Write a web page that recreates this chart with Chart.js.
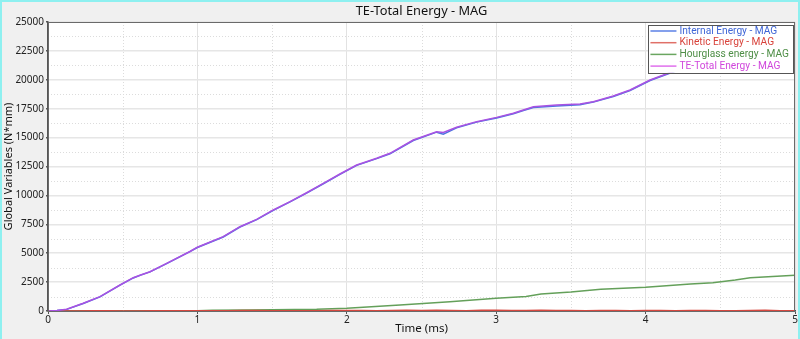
<!DOCTYPE html>
<html><head><meta charset="utf-8">
<script src="https://cdn.jsdelivr.net/npm/chart.js@4/dist/chart.umd.min.js"></script>
<style>html,body{margin:0;padding:0;background:#f0f0f0;overflow:hidden}canvas{display:block}</style>
</head><body>
<canvas id="c" width="800" height="339"></canvas>
<script>
// ---- texts ----
const chartTitle = 'TE-Total Energy - MAG';
const xAxisTitle = 'Time (ms)';
const yAxisTitle = 'Global Variables (N*mm)';
const seriesNames = ['Internal Energy - MAG', 'Kinetic Energy - MAG', 'Hourglass energy - MAG', 'TE-Total Energy - MAG'];

// ---- axis ranges / ticks ----
const xTickValues = [0, 1, 2, 3, 4, 5];
const yTickValues = [0, 2500, 5000, 7500, 10000, 12500, 15000, 17500, 20000, 22500, 25000];

// ---- TE-Total energy (ms, N*mm) ----
const teTime   = [0, 0.06, 0.125, 0.236, 0.348, 0.482, 0.571, 0.62, 0.683, 0.794, 0.95, 1.0, 1.173, 1.285, 1.397, 1.508, 1.62, 1.731, 1.843, 1.954, 2.066, 2.111, 2.2, 2.289, 2.445, 2.601, 2.646, 2.735, 2.869, 3.003, 3.115, 3.182, 3.249, 3.405, 3.561, 3.65, 3.784, 3.896, 4.03, 4.152, 4.4, 4.7, 5.0];
const teValues = [0, 40, 147, 666, 1240, 2250, 2880, 3120, 3400, 4125, 5150, 5520, 6430, 7290, 7930, 8740, 9460, 10230, 11040, 11850, 12630, 12830, 13210, 13640, 14790, 15510, 15450, 15890, 16380, 16750, 17100, 17390, 17670, 17820, 17900, 18110, 18600, 19120, 19980, 20560, 21700, 22700, 23300];

// ---- Internal energy ----
const ieTime   = [0, 0.06, 0.125, 0.236, 0.348, 0.482, 0.571, 0.62, 0.683, 0.794, 0.95, 1.0, 1.173, 1.285, 1.397, 1.508, 1.62, 1.731, 1.843, 1.954, 2.066, 2.111, 2.2, 2.289, 2.445, 2.601, 2.646, 2.735, 2.869, 3.003, 3.115, 3.182, 3.249, 3.405, 3.561, 3.65, 3.784, 3.896, 4.03, 4.152, 4.4, 4.7, 5.0];
const ieValues = [0, 35, 140, 655, 1225, 2235, 2860, 3100, 3385, 4105, 5130, 5495, 6400, 7265, 7900, 8710, 9435, 10200, 11010, 11820, 12600, 12790, 13180, 13600, 14750, 15470, 15300, 15840, 16340, 16700, 17060, 17340, 17600, 17730, 17850, 18070, 18560, 19080, 19940, 20520, 21660, 22660, 23260];

// ---- Kinetic energy ----
const keTime   = [0, 0.1, 0.2, 0.3, 0.4, 0.5, 0.6, 0.7, 0.8, 0.9, 1.0, 1.1, 1.2, 1.3, 1.4, 1.5, 1.6, 1.7, 1.8, 1.9, 2.0, 2.1, 2.2, 2.3, 2.4, 2.5, 2.6, 2.7, 2.8, 2.9, 3.0, 3.1, 3.2, 3.3, 3.4, 3.5, 3.6, 3.7, 3.8, 3.9, 4.0, 4.1, 4.2, 4.3, 4.4, 4.5, 4.6, 4.7, 4.8, 4.9, 5.0];
const keValues = [0, 5, 10, 15, 12, 10, 8, 15, 20, 18, 25, 30, 20, 35, 40, 30, 25, 20, 30, 35, 45, 40, 30, 50, 60, 40, 70, 45, 30, 55, 60, 50, 45, 70, 40, 35, 30, 50, 40, 30, 35, 45, 30, 50, 40, 30, 25, 35, 55, 30, 20];

// ---- Hourglass energy ----
const hgTime   = [0, 0.6, 1.0, 1.1, 1.352, 1.798, 2.0, 2.356, 2.69, 3.0, 3.2, 3.3, 3.5, 3.7, 4.0, 4.3, 4.45, 4.6, 4.7, 5.0];
const hgValues = [0, 5, 30, 60, 86, 147, 233, 520, 805, 1095, 1260, 1480, 1640, 1875, 2050, 2335, 2450, 2680, 2880, 3085];

function pts(t, v) { return t.map((x, i) => ({ x: x, y: v[i] })); }

const FONT = '"Noto Sans", "Open Sans", sans-serif';
const LEGEND_FONT = 'Roboto, "Noto Sans", sans-serif';

const decor = {
  id: 'decor',
  beforeDraw(chart) {
    const { ctx, chartArea: a, width, height } = chart;
    ctx.save();
    ctx.fillStyle = '#f0f0f0';
    ctx.fillRect(0, 0, width, height);
    ctx.fillStyle = '#ffffff';
    ctx.fillRect(a.left, a.top, a.right - a.left, a.bottom - a.top);
    ctx.restore();
  },
  beforeDatasetsDraw(chart) {
    const { ctx, chartArea: a } = chart;
    const xs = chart.scales.x, ys = chart.scales.y;
    ctx.save();
    ctx.strokeStyle = '#dcdcdc';
    ctx.lineWidth = 1;
    ctx.setLineDash([1, 2]);
    for (let i = 0; i < xs.ticks.length - 1; i++) {
      const m = (xs.ticks[i].value + xs.ticks[i + 1].value) / 2;
      const px = Math.round(xs.getPixelForValue(m)) + 0.5;
      ctx.beginPath(); ctx.moveTo(px, a.top); ctx.lineTo(px, a.bottom); ctx.stroke();
    }
    for (let i = 0; i < ys.ticks.length - 1; i++) {
      const m = (ys.ticks[i].value + ys.ticks[i + 1].value) / 2;
      const py = Math.round(ys.getPixelForValue(m)) + 0.5;
      ctx.beginPath(); ctx.moveTo(a.left, py); ctx.lineTo(a.right, py); ctx.stroke();
    }
    ctx.restore();
  },
  afterDraw(chart) {
    const { ctx, chartArea: a, width, height } = chart;
    ctx.save();
    // plot frame
    ctx.strokeStyle = '#6a6a6a';
    ctx.lineWidth = 1;
    ctx.strokeRect(a.left + 0.5, a.top + 0.5, a.right - a.left - 1, a.bottom - a.top);
    // title
    ctx.fillStyle = '#111';
    ctx.font = '12.8px ' + FONT;
    ctx.textAlign = 'center';
    ctx.textBaseline = 'middle';
    ctx.fillText(chartTitle, (a.left + a.right) / 2, 11.5);
    // legend
    const ds = chart.data.datasets;
    ctx.font = '10.2px ' + LEGEND_FONT;
    let maxW = 0;
    ds.forEach(d => { maxW = Math.max(maxW, ctx.measureText(d.label).width); });
    const rowH = 11.7, sample = 26, pad = 2, gap = 3;
    const bw = pad + sample + gap + maxW + 4;
    const bh = ds.length * rowH + 1;
    const bx = a.right - 2 - bw, by = a.top + 3;
    ctx.fillStyle = '#ffffff';
    ctx.fillRect(bx, by, bw, bh);
    ctx.strokeStyle = '#555';
    ctx.lineWidth = 1;
    ctx.strokeRect(Math.round(bx) + 0.5, Math.round(by) + 0.5, Math.round(bw), Math.round(bh));
    ctx.textAlign = 'left';
    ds.forEach((d, i) => {
      const cy = by + 6 + i * rowH;
      ctx.strokeStyle = d.legendLine;
      ctx.lineWidth = 1.5;
      ctx.beginPath(); ctx.moveTo(bx + pad, cy); ctx.lineTo(bx + pad + sample, cy); ctx.stroke();
      ctx.fillStyle = d.legendText;
      ctx.fillText(d.label, bx + pad + sample + gap, cy);
    });
    // window frame
    ctx.fillStyle = '#8ef0f0';
    ctx.fillRect(0, 0, width, 2);
    ctx.fillRect(0, 0, 2, height);
    ctx.fillRect(width - 2, 0, 2, height);
    ctx.restore();
  }
};

new Chart(document.getElementById('c'), {
  type: 'line',
  data: {
    datasets: [
      { label: seriesNames[0], data: pts(ieTime, ieValues), borderColor: '#4d74e0', legendLine: '#5b80e6', legendText: '#3f66d6', order: 3 },
      { label: seriesNames[1], data: pts(keTime, keValues), borderColor: '#d6473f', legendLine: '#e07068', legendText: '#d8423a', order: 1 },
      { label: seriesNames[2], data: pts(hgTime, hgValues), borderColor: '#64a05a', legendLine: '#6aa660', legendText: '#4e8e46', order: 2 },
      { label: seriesNames[3], data: pts(teTime, teValues), borderColor: '#a852e2', legendLine: '#e070ec', legendText: '#d046dc', order: 0 }
    ]
  },
  options: {
    responsive: false,
    animation: false,
    layout: { padding: { top: 22, right: 5, left: 0, bottom: 0 } },
    elements: { point: { radius: 0 }, line: { borderWidth: 1.5, tension: 0 } },
    plugins: { legend: { display: false }, title: { display: false }, tooltip: { enabled: false } },
    scales: {
      x: {
        type: 'linear', min: 0, max: 5,
        afterBuildTicks: s => { s.ticks = xTickValues.map(v => ({ value: v })); },
        ticks: { font: { family: FONT, size: 10 }, color: '#222', padding: 0, maxRotation: 0, callback: v => String(v) },
        grid: { color: '#e2e2e2', lineWidth: 1, tickLength: 3, tickColor: '#555' },
        border: { color: '#555', width: 1.5 },
        title: { display: true, text: xAxisTitle, font: { family: FONT, size: 11.5 }, color: '#111', padding: { top: 0, bottom: 3 } },
        afterFit: s => { s.height = 28; }
      },
      y: {
        type: 'linear', min: 0, max: 25000,
        afterBuildTicks: s => { s.ticks = yTickValues.map(v => ({ value: v })); },
        ticks: { font: { family: FONT, size: 10 }, color: '#222', padding: 2, callback: v => String(v) },
        grid: { color: '#e6e6e6', lineWidth: 1.5, tickLength: 2, tickColor: '#555' },
        border: { color: '#555', width: 1.5 },
        title: { display: true, text: yAxisTitle, font: { family: FONT, size: 11 }, color: '#111', padding: { top: 2, bottom: 0 } },
        afterFit: s => { s.width = 48; }
      }
    }
  },
  plugins: [decor]
});
</script>
</body></html>
